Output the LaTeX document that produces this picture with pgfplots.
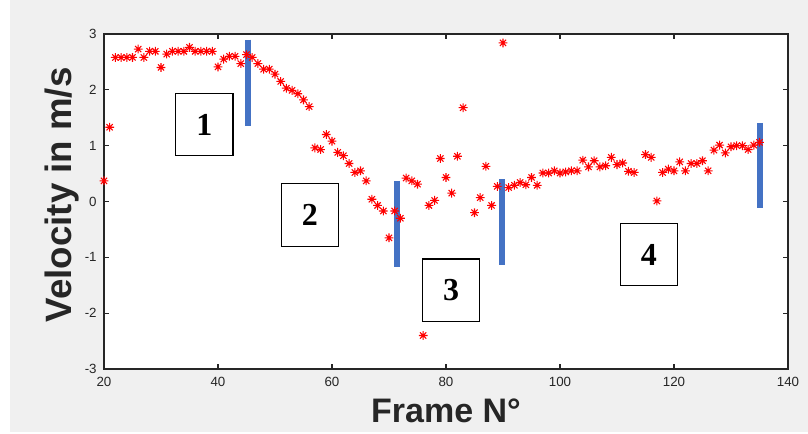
\documentclass[border=0pt]{standalone}
\usepackage{fontspec}
\setmainfont{Liberation Sans}
\newfontfamily\digitfont{Liberation Serif}
\usepackage{pgfplots}
\usepackage{pgfplotstable}
\pgfplotsset{compat=1.18}

\definecolor{figbg}{HTML}{F0F0F0}
\definecolor{axgray}{HTML}{262626}
\definecolor{segblue}{HTML}{4472C4}

% MATLAB-like '*' marker: + and x together
\pgfdeclareplotmark{mstar}{%
  \pgfpathmoveto{\pgfqpoint{0pt}{\pgfplotmarksize}}\pgfpathlineto{\pgfqpoint{0pt}{-\pgfplotmarksize}}%
  \pgfpathmoveto{\pgfqpoint{\pgfplotmarksize}{0pt}}\pgfpathlineto{\pgfqpoint{-\pgfplotmarksize}{0pt}}%
  \pgfpathmoveto{\pgfqpoint{.707\pgfplotmarksize}{.707\pgfplotmarksize}}\pgfpathlineto{\pgfqpoint{-.707\pgfplotmarksize}{-.707\pgfplotmarksize}}%
  \pgfpathmoveto{\pgfqpoint{-.707\pgfplotmarksize}{.707\pgfplotmarksize}}\pgfpathlineto{\pgfqpoint{.707\pgfplotmarksize}{-.707\pgfplotmarksize}}%
  \pgfusepathqstroke}

\pgfplotstableread{
frame vel
20 0.37
21 1.33
22 2.58
23 2.58
24 2.58
25 2.58
26 2.73
27 2.58
28 2.69
29 2.69
30 2.40
31 2.64
32 2.69
33 2.69
34 2.69
35 2.76
36 2.69
37 2.69
38 2.69
39 2.69
40 2.41
41 2.55
42 2.60
43 2.60
44 2.47
45 2.63
46 2.58
47 2.47
48 2.37
49 2.37
50 2.28
51 2.15
52 2.03
53 1.99
54 1.93
55 1.82
56 1.70
57 0.96
58 0.93
59 1.20
60 1.08
61 0.88
62 0.82
63 0.68
64 0.52
65 0.55
66 0.37
67 0.04
68 -0.07
69 -0.17
70 -0.65
71 -0.17
72 -0.30
73 0.42
74 0.37
75 0.31
76 -2.40
77 -0.07
78 0.02
79 0.77
80 0.43
81 0.15
82 0.81
83 1.68
85 -0.20
86 0.07
87 0.63
88 -0.07
89 0.27
90 2.84
91 0.25
92 0.29
93 0.34
94 0.30
95 0.43
96 0.29
97 0.51
98 0.51
99 0.55
100 0.51
101 0.53
102 0.55
103 0.55
104 0.74
105 0.62
106 0.73
107 0.62
108 0.64
109 0.79
110 0.66
111 0.69
112 0.54
113 0.52
115 0.84
116 0.79
117 0.01
118 0.52
119 0.58
120 0.55
121 0.71
122 0.55
123 0.68
124 0.68
125 0.73
126 0.55
127 0.92
128 1.01
129 0.87
130 0.98
131 1.00
132 1.00
133 0.93
134 1.01
135 1.06
}\veldata

\begin{document}
\begin{tikzpicture}
% figure background (1px = 0.75pt)
\fill[white] (-78pt,-48.75pt) rectangle (528pt,276.75pt);
\fill[figbg] (-70.5pt,-47.25pt) rectangle (528pt,276.75pt);

\begin{axis}[
  scale only axis,
  width=513pt, height=251.25pt,
  xmin=20, xmax=140, ymin=-3, ymax=3,
  xtick={20,40,...,140}, ytick={-3,-2,...,3},
  tick align=inside, tick pos=both,
  major tick length=3.75pt,
  axis background/.style={fill=white},
  axis line style={draw=axgray, line width=0.9pt},
  every tick/.style={axgray, line width=0.8pt},
  tick label style={font=\fontsize{10}{12}\selectfont, text=axgray},
  xticklabel style={yshift=-2.5pt},
  yticklabel style={xshift=-2pt},
  /pgf/number format/assume math mode=true,
  xlabel={Frame N°},
  ylabel={Velocity in m/s},
  xlabel style={at={([yshift=-31.5pt]axis description cs:0.5,0)}, anchor=center,
    font=\fontsize{25.5}{28}\selectfont\bfseries, text=axgray},
  ylabel style={at={([xshift=-31.5pt]axis description cs:0,0.52)}, anchor=center, rotate=0,
    font=\fontsize{27.5}{30}\selectfont\bfseries, text=axgray},
  clip=false,
]
\addplot[only marks, mark=mstar, mark size=3.3pt, red, line width=0.8pt] table[x=frame, y=vel] {\veldata};

% segment separators
\addplot[segblue, line width=4.5pt] coordinates {(45.3,2.90) (45.3,1.36)};
\addplot[segblue, line width=4.5pt] coordinates {(71.45,0.37) (71.45,-1.17)};
\addplot[segblue, line width=4.5pt] coordinates {(89.8,0.40) (89.8,-1.14)};
\addplot[segblue, line width=4.5pt] coordinates {(135.0,1.41) (135.0,-0.11)};

% segment labels
\tikzset{seg/.style={draw=black, line width=0.9pt, fill=white, minimum width=43pt, minimum height=47pt,
  inner sep=0pt, font=\digitfont\fontsize{24}{26}\selectfont\bfseries}}
\node[seg] at (axis cs:37.6,1.38) {1};
\node[seg] at (axis cs:56.1,-0.24) {2};
\node[seg] at (axis cs:80.9,-1.59) {3};
\node[seg] at (axis cs:115.6,-0.95) {4};
\end{axis}

\pgfresetboundingbox
\useasboundingbox (-78pt,-48.75pt) rectangle (528pt,276.75pt);
\end{tikzpicture}
\end{document}
